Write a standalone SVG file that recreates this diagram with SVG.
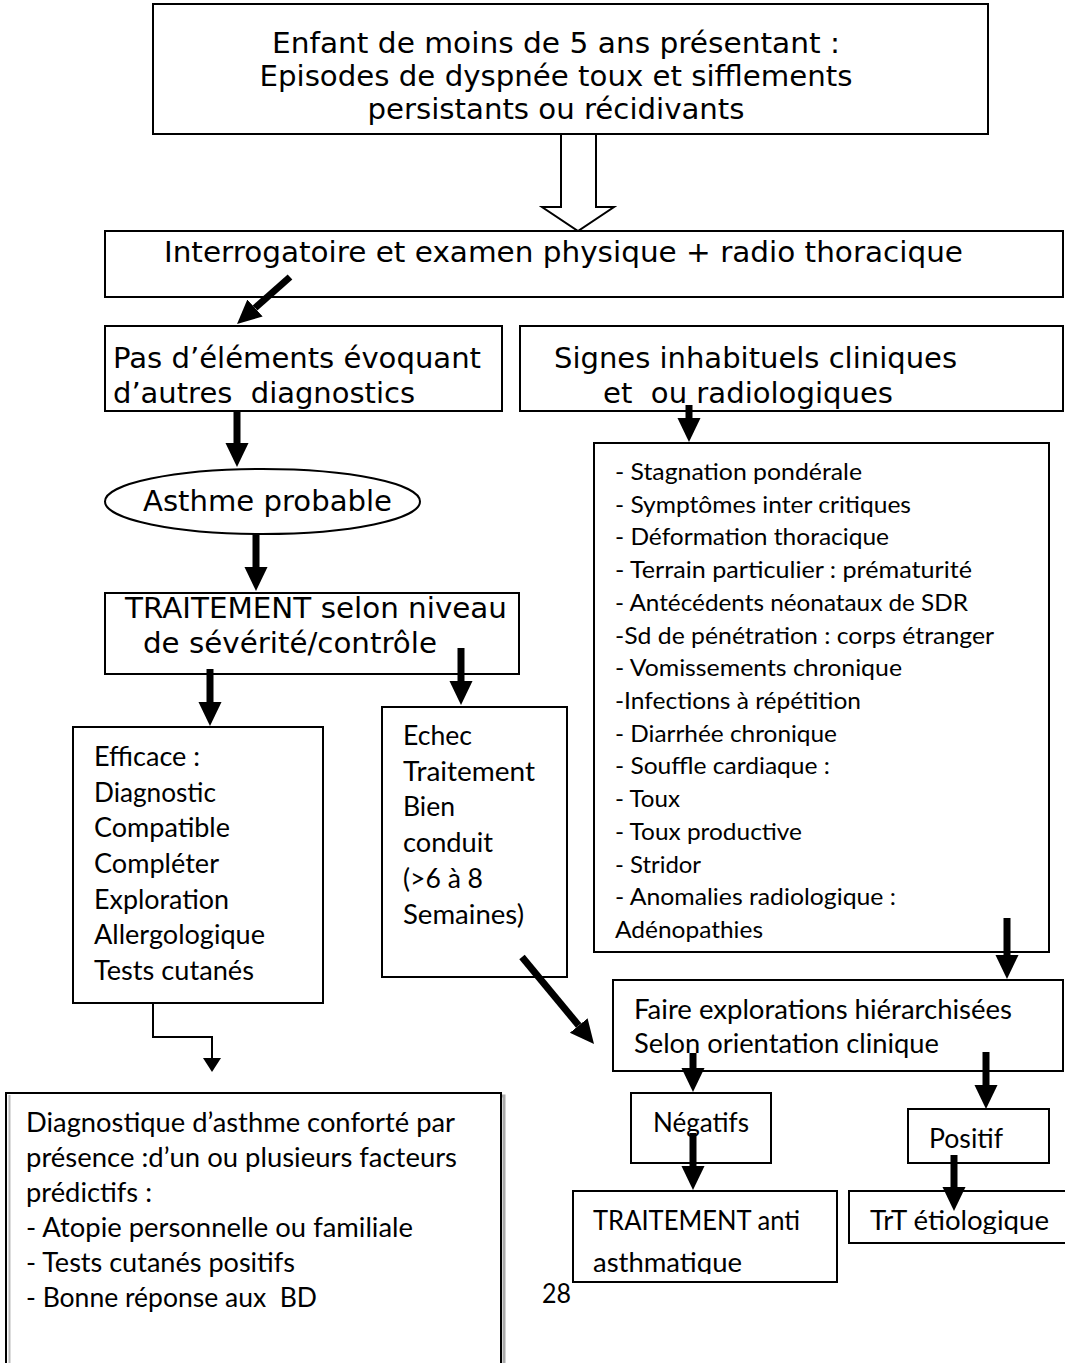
<svg xmlns="http://www.w3.org/2000/svg" width="1065" height="1363" viewBox="0 0 1065 1363">
<style>
.bx{fill:#fff;stroke:#000;stroke-width:2}
.v{font-family:"DejaVu Sans",Verdana,sans-serif;font-size:29px;fill:#000}
.c{font-family:Lato,"Open Sans","Liberation Sans",sans-serif;font-size:26px;fill:#000}
.cs{font-family:Lato,"Open Sans","Liberation Sans",sans-serif;font-size:24px;fill:#000}
.ar{fill:none;stroke:#000;stroke-width:7}
.thin{fill:none;stroke:#000;stroke-width:2}
</style>
<defs>
<marker id="ah" markerUnits="userSpaceOnUse" markerWidth="24" markerHeight="25" viewBox="0 0 25 24" refX="0" refY="12" orient="auto"><path d="M0,0 L25,12 L0,24 z" fill="#000"/></marker>
<marker id="ahs" markerUnits="userSpaceOnUse" markerWidth="14" markerHeight="18" viewBox="0 0 14 18" refX="0" refY="9" orient="auto"><path d="M0,0 L14,9 L0,18 z" fill="#000"/></marker>
<clipPath id="clipA"><rect x="570" y="1190" width="270" height="84"/></clipPath>
<clipPath id="clipT"><rect x="850" y="1190" width="215" height="44"/></clipPath>
</defs>

<g id="connectors">
<path d="M561,134 V207 H542 L578,231 L614,207 H596 V134" fill="#fff" stroke="#000" stroke-width="2"/>
</g>

<g id="n1">
<rect class="bx" x="153" y="4" width="835" height="130"/>
<text class="v" x="556" y="53" text-anchor="middle" textLength="568" lengthAdjust="spacingAndGlyphs">Enfant de moins de 5 ans présentant :</text>
<text class="v" x="556" y="86" text-anchor="middle" textLength="593" lengthAdjust="spacingAndGlyphs">Episodes de dyspnée toux et sifflements</text>
<text class="v" x="556" y="119" text-anchor="middle" textLength="377" lengthAdjust="spacingAndGlyphs">persistants ou récidivants</text>
</g>

<g id="n2">
<rect class="bx" x="105" y="231" width="958" height="66"/>
<text class="v" x="164" y="262" textLength="799" lengthAdjust="spacingAndGlyphs">Interrogatoire et examen physique + radio thoracique</text>
</g>

<g id="n3">
<rect class="bx" x="105" y="326" width="397" height="85"/>
<text class="v" x="113" y="368" textLength="368" lengthAdjust="spacingAndGlyphs">Pas d’éléments évoquant</text>
<text class="v" x="113" y="403" xml:space="preserve" textLength="302" lengthAdjust="spacingAndGlyphs">d’autres  diagnostics</text>
</g>

<g id="n4">
<rect class="bx" x="520" y="326" width="543" height="85"/>
<text class="v" x="554" y="368" textLength="403" lengthAdjust="spacingAndGlyphs">Signes inhabituels cliniques</text>
<text class="v" x="603" y="403" xml:space="preserve" textLength="290" lengthAdjust="spacingAndGlyphs">et  ou radiologiques</text>
</g>

<g id="n5">
<ellipse cx="262.5" cy="501.5" rx="157.5" ry="32.5" fill="#fff" stroke="#000" stroke-width="2"/>
<text class="v" x="143" y="511" textLength="249" lengthAdjust="spacingAndGlyphs">Asthme probable</text>
</g>

<g id="n6">
<rect class="bx" x="105" y="593" width="414" height="81"/>
<text class="v" x="125" y="618" textLength="382" lengthAdjust="spacingAndGlyphs">TRAITEMENT selon niveau</text>
<text class="v" x="143" y="653" textLength="294" lengthAdjust="spacingAndGlyphs">de sévérité/contrôle</text>
</g>

<g id="n7">
<rect class="bx" x="594" y="443" width="455" height="509"/>
<text class="cs" x="615" y="480" textLength="247" lengthAdjust="spacingAndGlyphs">- Stagnation pondérale</text>
<text class="cs" x="615" y="512.7" textLength="296" lengthAdjust="spacingAndGlyphs">- Symptômes inter critiques</text>
<text class="cs" x="615" y="545.4" textLength="274" lengthAdjust="spacingAndGlyphs">- Déformation thoracique</text>
<text class="cs" x="615" y="578.1" textLength="357" lengthAdjust="spacingAndGlyphs">- Terrain particulier : prématurité</text>
<text class="cs" x="615" y="610.8" textLength="353" lengthAdjust="spacingAndGlyphs">- Antécédents néonataux de SDR</text>
<text class="cs" x="615" y="643.6" textLength="379" lengthAdjust="spacingAndGlyphs">-Sd de pénétration : corps étranger</text>
<text class="cs" x="615" y="676.3" textLength="287" lengthAdjust="spacingAndGlyphs">- Vomissements chronique</text>
<text class="cs" x="615" y="709" textLength="246" lengthAdjust="spacingAndGlyphs">-Infections à répétition</text>
<text class="cs" x="615" y="741.7" textLength="222" lengthAdjust="spacingAndGlyphs">- Diarrhée chronique</text>
<text class="cs" x="615" y="774.4" textLength="215" lengthAdjust="spacingAndGlyphs">- Souffle cardiaque :</text>
<text class="cs" x="615" y="807.1" textLength="65" lengthAdjust="spacingAndGlyphs">- Toux</text>
<text class="cs" x="615" y="839.8" textLength="187" lengthAdjust="spacingAndGlyphs">- Toux productive</text>
<text class="cs" x="615" y="872.5" textLength="86" lengthAdjust="spacingAndGlyphs">- Stridor</text>
<text class="cs" x="615" y="905.2" textLength="281" lengthAdjust="spacingAndGlyphs">- Anomalies radiologique :</text>
<text class="cs" x="615" y="938" textLength="148" lengthAdjust="spacingAndGlyphs">Adénopathies</text>
</g>

<g id="n8">
<rect class="bx" x="73" y="727" width="250" height="276"/>
<text class="c" x="94" y="766" textLength="106" lengthAdjust="spacingAndGlyphs">Efficace :</text>
<text class="c" x="94" y="801.7" textLength="122" lengthAdjust="spacingAndGlyphs">Diagnostic</text>
<text class="c" x="94" y="837.3" textLength="136" lengthAdjust="spacingAndGlyphs">Compatible</text>
<text class="c" x="94" y="873" textLength="125" lengthAdjust="spacingAndGlyphs">Compléter</text>
<text class="c" x="94" y="908.7" textLength="135" lengthAdjust="spacingAndGlyphs">Exploration</text>
<text class="c" x="94" y="944.3" textLength="171" lengthAdjust="spacingAndGlyphs">Allergologique</text>
<text class="c" x="94" y="980" textLength="160" lengthAdjust="spacingAndGlyphs">Tests cutanés</text>
</g>

<g id="n9">
<rect class="bx" x="382" y="707" width="185" height="270"/>
<text class="c" x="403" y="745" textLength="69" lengthAdjust="spacingAndGlyphs">Echec</text>
<text class="c" x="403" y="780.7" textLength="132" lengthAdjust="spacingAndGlyphs">Traitement</text>
<text class="c" x="403" y="816.4" textLength="52" lengthAdjust="spacingAndGlyphs">Bien</text>
<text class="c" x="403" y="852.1" textLength="90" lengthAdjust="spacingAndGlyphs">conduit</text>
<text class="c" x="403" y="887.8" textLength="80" lengthAdjust="spacingAndGlyphs">(&gt;6 à 8</text>
<text class="c" x="403" y="923.5" textLength="121" lengthAdjust="spacingAndGlyphs">Semaines)</text>
</g>

<g id="n10">
<rect class="bx" x="613" y="980" width="450" height="91"/>
<text class="c" x="634" y="1019" textLength="378" lengthAdjust="spacingAndGlyphs">Faire explorations hiérarchisées</text>
<text class="c" x="634" y="1053" textLength="305" lengthAdjust="spacingAndGlyphs">Selon orientation clinique</text>
</g>

<g id="n11">
<rect x="9" y="1096" width="495" height="290" fill="none" stroke="#aaa" stroke-width="3"/>
<rect class="bx" x="6" y="1093" width="495" height="290"/>
<line x1="9.5" y1="1095" x2="9.5" y2="1363" stroke="#bbb" stroke-width="2"/>
<text class="c" x="26" y="1132" textLength="429" lengthAdjust="spacingAndGlyphs">Diagnostique d’asthme conforté par</text>
<text class="c" x="26" y="1167" textLength="431" lengthAdjust="spacingAndGlyphs">présence :d’un ou plusieurs facteurs</text>
<text class="c" x="26" y="1202" textLength="126" lengthAdjust="spacingAndGlyphs">prédictifs :</text>
<text class="c" x="26" y="1237" textLength="387" lengthAdjust="spacingAndGlyphs">- Atopie personnelle ou familiale</text>
<text class="c" x="26" y="1272" textLength="269" lengthAdjust="spacingAndGlyphs">- Tests cutanés positifs</text>
<text class="c" x="26" y="1307" textLength="291" lengthAdjust="spacingAndGlyphs" xml:space="preserve">- Bonne réponse aux  BD</text>
</g>

<g id="n12">
<rect class="bx" x="631" y="1093" width="140" height="70"/>
<text class="c" x="653" y="1132" textLength="96" lengthAdjust="spacingAndGlyphs">Négatifs</text>
</g>

<g id="n13">
<rect class="bx" x="908" y="1109" width="141" height="54"/>
<text class="c" x="929" y="1148" textLength="74" lengthAdjust="spacingAndGlyphs">Positif</text>
</g>

<g id="n14">
<rect class="bx" x="573" y="1191" width="264" height="91"/>
<g clip-path="url(#clipA)">
<text class="c" x="593" y="1230" textLength="207" lengthAdjust="spacingAndGlyphs">TRAITEMENT anti</text>
<text class="c" x="593" y="1272" textLength="149" lengthAdjust="spacingAndGlyphs">asthmatique</text>
</g>
</g>

<g id="n15">
<rect class="bx" x="849" y="1191" width="230" height="52"/>
<g clip-path="url(#clipT)">
<text class="c" x="870" y="1230" textLength="179" lengthAdjust="spacingAndGlyphs">TrT étiologique</text>
</g>
</g>

<g id="page">
<text class="c" x="542" y="1303" textLength="29" lengthAdjust="spacingAndGlyphs">28</text>
</g>

<g id="arrows">
<line class="ar" x1="290" y1="277" x2="255" y2="308" marker-end="url(#ah)"/>
<line class="ar" x1="237" y1="411" x2="237" y2="443" marker-end="url(#ah)"/>
<line class="ar" x1="256" y1="533" x2="256" y2="567" marker-end="url(#ah)"/>
<line class="ar" x1="461" y1="648" x2="461" y2="681" marker-end="url(#ah)"/>
<line class="ar" x1="210" y1="669" x2="210" y2="702" marker-end="url(#ah)"/>
<line class="ar" x1="689" y1="405" x2="689" y2="418" marker-end="url(#ah)"/>
<line class="ar" x1="1007" y1="918" x2="1007" y2="955" marker-end="url(#ah)"/>
<line class="ar" x1="522" y1="957" x2="578.7" y2="1025.5" marker-end="url(#ah)"/>
<line class="ar" x1="693" y1="1053" x2="693" y2="1068" marker-end="url(#ah)"/>
<line class="ar" x1="986" y1="1052" x2="986" y2="1085" marker-end="url(#ah)"/>
<line class="ar" x1="693" y1="1133" x2="693" y2="1166" marker-end="url(#ah)"/>
<line class="ar" x1="954" y1="1155" x2="954" y2="1187" marker-end="url(#ah)"/>
<path class="thin" d="M153,1003 V1037 H212 V1058" marker-end="url(#ahs)"/>
</g>
</svg>
